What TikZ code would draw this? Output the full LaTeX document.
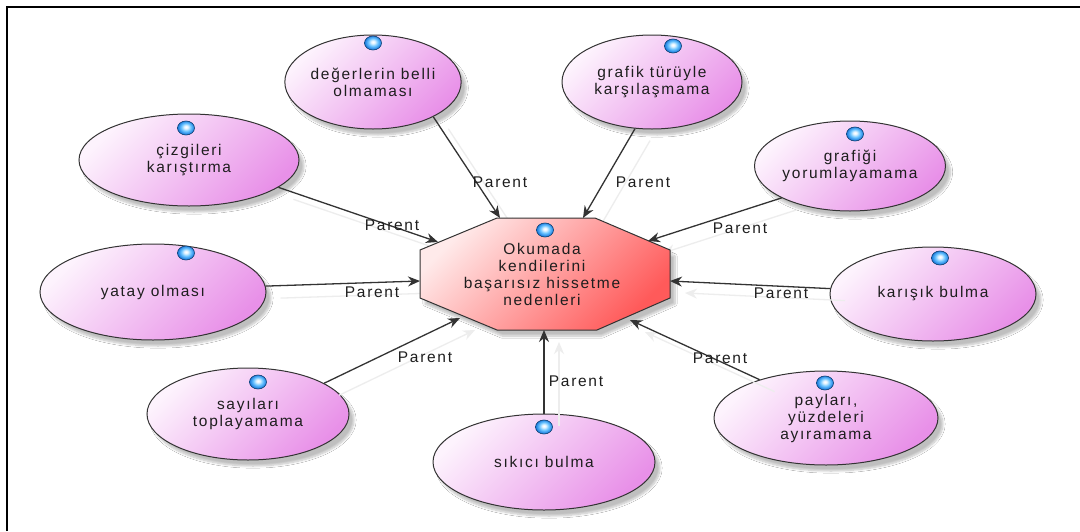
\documentclass[tikz,border=0pt]{standalone}
\usepackage{fontspec}
\setmainfont{Liberation Sans}[LetterSpace=11]
\usetikzlibrary{shapes.geometric,arrows.meta,shadows.blur,calc}

\definecolor{txt}{HTML}{1E1E1E}
\definecolor{ellL}{HTML}{FDF3FD}
\definecolor{ellD}{HTML}{E890E8}
\definecolor{octL}{HTML}{FFEAEA}
\definecolor{octD}{HTML}{FF5A5A}
\definecolor{edge}{HTML}{333333}
\definecolor{dotC}{HTML}{1E7FE0}
\definecolor{dotM}{HTML}{6CC4FF}

% glossy bullet: white highlight, light blue body, darker rim
\pgfdeclareradialshading{gem}{\pgfpoint{0bp}{4bp}}{%
  color(0bp)=(white); color(5bp)=(white!85!dotM); color(14bp)=(dotM);
  color(24bp)=(dotC); color(30bp)=(dotC!75!black); color(50bp)=(dotC!75!black)}

\tikzset{
  every node/.style={font=\fontsize{15.5}{17}\selectfont, text=txt},
  softshadow/.style={blur shadow={shadow xshift=5pt, shadow yshift=-6pt, shadow opacity=25, shadow blur steps=8}},
  idea/.style={ellipse, draw=edge, line width=1pt, top color=ellL, bottom color=ellD,
    shading angle=45, inner sep=0pt, align=center, softshadow},
  bullet/.style={ellipse, minimum width=17pt, minimum height=14pt, inner sep=0pt,
    draw=dotC!50!black, line width=0.6pt, shading=gem},
  link/.style={draw=edge, line width=1.3pt, -{Stealth[length=12pt,width=10pt]}},
  ghost/.style={draw=black!7, line width=1.3pt, -{Stealth[length=12pt,width=10pt]}},
  tag/.style={inner sep=1pt},
}

\begin{document}
\begin{tikzpicture}[x=1pt,y=-1pt]
\useasboundingbox (0,0) rectangle (1080,531);
\fill[white] (0,0) rectangle (1080,531);

% frame (top and left edges)
\draw[line width=2pt] (7,531) -- (7,7) -- (1080,7);

% arrow tips on the central octagon
\coordinate (t1) at (500,218);
\coordinate (t2) at (583,218);
\coordinate (t3) at (438,242);
\coordinate (t4) at (648,241);
\coordinate (t5) at (420,281);
\coordinate (t6) at (670,281);
\coordinate (t7) at (460,318);
\coordinate (t8) at (544,330);
\coordinate (t9) at (630,320);

% outer ideas
\node[idea, minimum width=172pt, minimum height=94pt] (e1) at (373,82) {değerlerin belli\\olmaması};
\node[idea, minimum width=180pt, minimum height=94pt] (e2) at (652,82) {grafik türüyle\\karşılaşmama};
\node[idea, minimum width=220pt, minimum height=92pt] (e3) at (189,160) {çizgileri\\karıştırma};
\node[idea, minimum width=190pt, minimum height=90pt] (e4) at (850,166) {grafiği\\yorumlayamama};
\node[idea, minimum width=226pt, minimum height=96pt] (e5) at (153,292) {yatay olması};
\node[idea, minimum width=206pt, minimum height=94pt] (e6) at (933,294) {karışık bulma};
\node[idea, minimum width=202pt, minimum height=92pt] (e7) at (248,414) {sayıları\\toplayamama};
\node[idea, minimum width=222pt, minimum height=96pt] (e8) at (544,462) {sıkıcı bulma};
\node[idea, minimum width=224pt, minimum height=94pt] (e9) at (826,418) {payları,\\yüzdeleri\\ayıramama};

% faint echoes of the connectors
\foreach \s/\t in {e1.-30/t1, e2.-110/t2, e3.-17/t3, e4.-155/t4, e5.3/t5, e6.177/t6, e7.22/t7, e8.north/t8, e9.150/t9}
  \draw[ghost] ([shift={(15,12)}]\s) -- ([shift={(15,12)}]\t);

% central octagon
\path[draw=edge, line width=1pt, top color=octL, bottom color=octD, shading angle=45, softshadow]
  (420,250) -- (497,218) -- (595,218) -- (670,250) -- (670,298) -- (597,330) -- (497,330) -- (420,298) -- cycle;
\node[align=center] (core) at (542,274) {Okumada\\kendilerini\\başarısız hissetme\\nedenleri};

% connectors
\draw[link] (e1.-30) -- (t1);
\draw[link] (e2.-110) -- (t2);
\draw[link] (e3.-17) -- (t3);
\draw[link] (e4.-155) -- (t4);
\draw[link] (e5.3) -- (t5);
\draw[link] (e6.177) -- (t6);
\draw[link] (e7.22) -- (t7);
\draw[link] (e8.north) -- (t8);
\draw[link] (e9.150) -- (t9);

% connector labels
\node[tag] (p1) at (500,182) {Parent};
\node[tag] (p2) at (643,182) {Parent};
\node[tag] (p3) at (392,225) {Parent};
\node[tag] (p4) at (740,228) {Parent};
\node[tag] (p5) at (372,292) {Parent};
\node[tag] (p6) at (781,293) {Parent};
\node[tag] (p7) at (425,357) {Parent};
\node[tag] (p8) at (576,381) {Parent};
\node[tag] (p9) at (720,358) {Parent};

% status bullets
\node[bullet] (b0) at (545,230) {};
\node[bullet] (b1) at (373,43) {};
\node[bullet] (b2) at (673,46) {};
\node[bullet] (b3) at (186,128) {};
\node[bullet] (b4) at (855,134) {};
\node[bullet] (b5) at (186,253) {};
\node[bullet] (b6) at (940,258) {};
\node[bullet] (b7) at (258,382) {};
\node[bullet] (b8) at (544,427) {};
\node[bullet] (b9) at (825,383) {};
\end{tikzpicture}
\end{document}
